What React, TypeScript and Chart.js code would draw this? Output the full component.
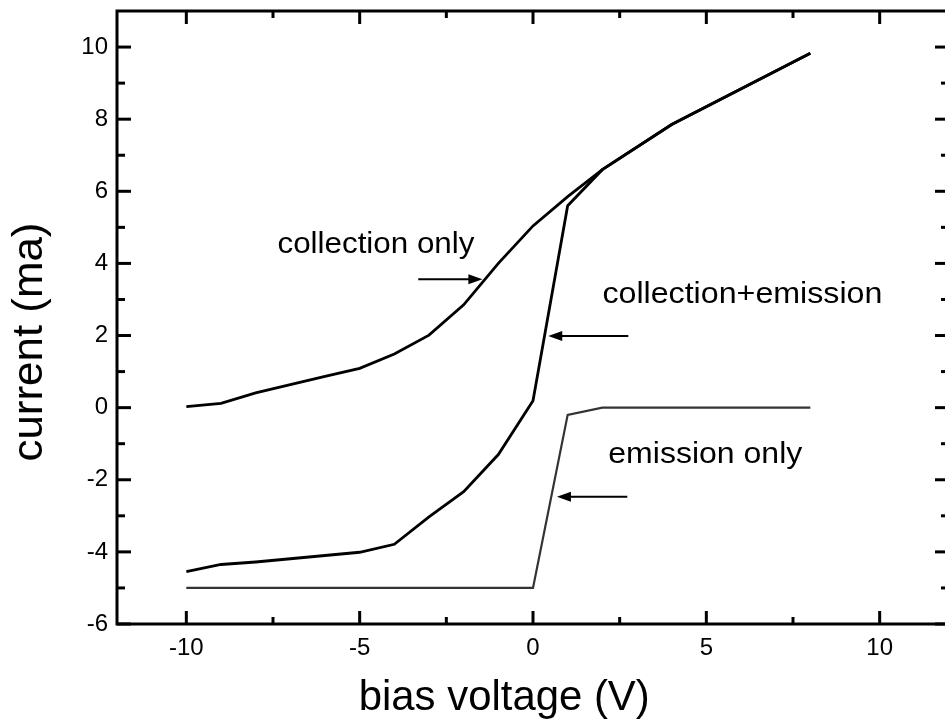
import React, { useEffect, useRef } from "react";
import { Chart, registerables } from "chart.js";

Chart.register(...registerables);

// ---- data ----
const biasVoltage = [-10, -9, -8, -6, -5, -4, -3, -2, -1, 0, 1, 2, 4, 8];
const collectionOnly = [0.03, 0.12, 0.41, 0.87, 1.09, 1.49, 2.01, 2.85, 4.0, 5.04, 5.85, 6.6, 7.85, 9.83];
const collectionPlusEmission = [-4.55, -4.35, -4.28, -4.1, -4.01, -3.79, -3.03, -2.33, -1.3, 0.19, 5.6, 6.6, 7.85, 9.83];
const emissionBias = [-10, 0, 1, 2, 8];
const emissionOnly = [-5, -5, -0.2, 0, 0];

const xTickValues = [-10, -5, 0, 5, 10];
const xMinorTickValues = [-7.5, -2.5, 2.5, 7.5];
const yTickValues = [-6, -4, -2, 0, 2, 4, 6, 8, 10];
const yMinorTickValues = [-5, -3, -1, 1, 3, 5, 7, 9];

const xTitle = "bias voltage (V)";
const yTitle = "current (ma)";

const curveLabels = [
  { text: "collection only", x: -4.53, y: 4.29, width: 197 },
  { text: "collection+emission", x: 6.04, y: 2.9, width: 280 },
  { text: "emission only", x: 4.97, y: -1.54, width: 194 },
];
const curveArrows = [
  { fromX: -3.31, toX: -1.46, y: 3.56 },
  { fromX: 2.75, toX: 0.44, y: 1.99 },
  { fromX: 2.72, toX: 0.69, y: -2.47 },
];

const FONT = "'Liberation Sans', Arial, Helvetica, sans-serif";

const toPoints = (xs: number[], ys: number[]) => xs.map((v, i) => ({ x: v, y: ys[i] }));

const framePlugin = {
  id: "frameAndNotes",
  afterDatasetsDraw(chart: any) {
    const { ctx, chartArea: a, scales } = chart;
    const xs = scales.x;
    const ys = scales.y;
    ctx.save();
    ctx.strokeStyle = "#000";
    ctx.fillStyle = "#000";
    ctx.lineWidth = 3;
    ctx.strokeRect(a.left, a.top, a.right - a.left, a.bottom - a.top);

    const seg = (x1: number, y1: number, x2: number, y2: number) => {
      ctx.beginPath();
      ctx.moveTo(x1, y1);
      ctx.lineTo(x2, y2);
      ctx.stroke();
    };
    ctx.lineWidth = 3;
    xTickValues.forEach((v) => {
      const p = xs.getPixelForValue(v);
      seg(p, a.bottom, p, a.bottom - 13);
      seg(p, a.top, p, a.top + 13);
    });
    xMinorTickValues.forEach((v) => {
      const p = xs.getPixelForValue(v);
      seg(p, a.bottom, p, a.bottom - 7);
      seg(p, a.top, p, a.top + 7);
    });
    yTickValues.forEach((v) => {
      const p = ys.getPixelForValue(v);
      seg(a.left, p, a.left + 14, p);
      seg(a.right, p, a.right - 14, p);
    });
    yMinorTickValues.forEach((v) => {
      const p = ys.getPixelForValue(v);
      seg(a.left, p, a.left + 8, p);
      seg(a.right, p, a.right - 8, p);
    });

    // arrows
    ctx.lineWidth = 2;
    curveArrows.forEach((ar) => {
      const x1 = xs.getPixelForValue(ar.fromX);
      const x2 = xs.getPixelForValue(ar.toX);
      const py = ys.getPixelForValue(ar.y);
      const dir = Math.sign(x2 - x1);
      const head = 14;
      seg(x1, py, x2 - dir * head * 0.8, py);
      ctx.beginPath();
      ctx.moveTo(x2, py);
      ctx.lineTo(x2 - dir * head, py - 5);
      ctx.lineTo(x2 - dir * head, py + 5);
      ctx.closePath();
      ctx.fill();
    });

    const drawFitted = (text: string, cx: number, cy: number, size: number, width: number, rotate = false) => {
      ctx.save();
      ctx.font = `${size}px ${FONT}`;
      const w = ctx.measureText(text).width;
      ctx.translate(cx, cy);
      if (rotate) ctx.rotate(-Math.PI / 2);
      ctx.scale(width / w, 1);
      ctx.textAlign = "center";
      ctx.textBaseline = "alphabetic";
      ctx.fillText(text, 0, 0);
      ctx.restore();
    };

    curveLabels.forEach((l) => {
      drawFitted(l.text, xs.getPixelForValue(l.x), ys.getPixelForValue(l.y), 30, l.width);
    });

    // axis titles
    drawFitted(xTitle, xs.getPixelForValue(-0.83), a.bottom + 86, 42, 291);
    drawFitted(yTitle, a.left - 75.5, ys.getPixelForValue(1.82), 42, 239, true);

    ctx.restore();
  },
};

export default function App() {
  const canvasRef = useRef<HTMLCanvasElement | null>(null);

  useEffect(() => {
    if (!canvasRef.current) return;
    const chart = new Chart(canvasRef.current, {
      type: "scatter",
      data: {
        datasets: [
          {
            label: "collection only",
            data: toPoints(biasVoltage, collectionOnly),
            showLine: true,
            borderColor: "#000",
            borderWidth: 2.8,
            pointRadius: 0,
            tension: 0,
          },
          {
            label: "collection+emission",
            data: toPoints(biasVoltage, collectionPlusEmission),
            showLine: true,
            borderColor: "#000",
            borderWidth: 2.8,
            pointRadius: 0,
            tension: 0,
          },
          {
            label: "emission only",
            data: toPoints(emissionBias, emissionOnly),
            showLine: true,
            borderColor: "#333",
            borderWidth: 2.2,
            pointRadius: 0,
            tension: 0,
          },
        ],
      },
      options: {
        responsive: false,
        animation: false,
        devicePixelRatio: 1,
        layout: { padding: { left: 0, top: 11, right: 11, bottom: 0 } },
        plugins: {
          legend: { display: false },
          tooltip: { enabled: false },
        },
        scales: {
          x: {
            type: "linear",
            min: -12,
            max: 12,
            grid: { display: false, drawTicks: false },
            border: { display: false },
            afterBuildTicks: (s: any) => {
              s.ticks = xTickValues.map((v) => ({ value: v }));
            },
            afterFit: (s: any) => {
              s.height = 99;
              s.paddingLeft = 0;
              s.paddingRight = 0;
            },
            ticks: {
              color: "#000",
              padding: 10,
              maxRotation: 0,
              autoSkip: false,
              font: { family: FONT, size: 24 },
            },
          },
          y: {
            type: "linear",
            min: -6,
            max: 11,
            grid: { display: false, drawTicks: false },
            border: { display: false },
            afterBuildTicks: (s: any) => {
              s.ticks = yTickValues.map((v) => ({ value: v }));
            },
            afterFit: (s: any) => {
              s.width = 117;
              s.paddingTop = 0;
              s.paddingBottom = 0;
            },
            ticks: {
              color: "#000",
              padding: 9,
              autoSkip: false,
              font: { family: FONT, size: 24 },
            },
          },
        },
      },
      plugins: [framePlugin],
    } as any);
    return () => chart.destroy();
  }, []);

  return (
    <div
      style={{
        position: "fixed",
        left: 0,
        top: 0,
        width: 945,
        height: 723,
        overflow: "hidden",
        background: "#fff",
      }}
    >
      <canvas ref={canvasRef} width={960} height={723} style={{ display: "block", width: 960, height: 723 }} />
    </div>
  );
}
